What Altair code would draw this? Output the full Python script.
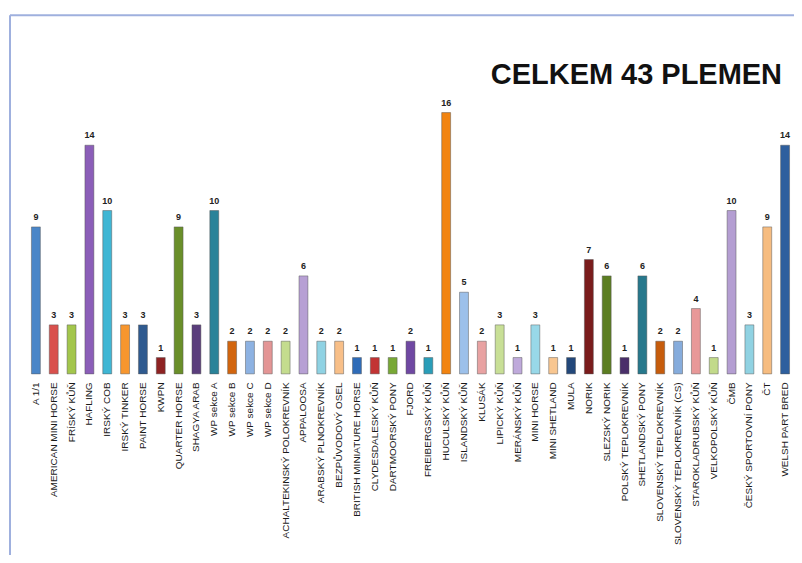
import altair as alt
import pandas as pd

breeds = [
    "A 1/1", "AMERICAN MINI HORSE", "FRÍSKÝ KŮŇ", "HAFLING", "IRSKÝ COB",
    "IRSKÝ TINKER", "PAINT HORSE", "KWPN", "QUARTER HORSE", "SHAGYA ARAB",
    "WP sekce A", "WP sekce B", "WP sekce C", "WP sekce D",
    "ACHALTEKINSKÝ POLOKREVNÍK", "APPALOOSA", "ARABSKÝ PLNOKREVNÍK",
    "BEZPŮVODOVÝ OSEL", "BRITISH MINIATURE HORSE", "CLYDESDALESKÝ KŮŇ",
    "DARTMOORSKÝ PONY", "FJORD", "FREIBERGSKÝ KŮŇ", "HUCULSKÝ KŮŇ",
    "ISLANDSKÝ KŮŇ", "KLUSÁK", "LIPICKÝ KŮŇ", "MERÁNSKÝ KŮŇ", "MINI HORSE",
    "MINI SHETLAND", "MULA", "NORIK", "SLEZSKÝ NORIK", "POLSKÝ TEPLOKREVNÍK",
    "SHETLANDSKÝ PONY", "SLOVENSKÝ TEPLOKREVNÍK",
    "SLOVENSKÝ TEPLOKREVNÍK (CS)", "STAROKLADRUBSKÝ KŮŇ", "VELKOPOLSKÝ KŮŇ",
    "ČMB", "ČESKÝ SPORTOVNÍ PONY", "ČT", "WELSH PART BRED",
]
counts = [
    9, 3, 3, 14, 10, 3, 3, 1, 9, 3,
    10, 2, 2, 2, 2, 6, 2, 2, 1, 1,
    1, 2, 1, 16, 5, 2, 3, 1, 3, 1,
    1, 7, 6, 1, 6, 2, 2, 4, 1, 10,
    3, 9, 14,
]
fills = [
    "#4a86c8", "#d9504c", "#a3c64c", "#8b5eb8", "#3fb6d4", "#f7962e",
    "#2f5a8f", "#8e2222", "#6a8f2a", "#5a3d7c", "#2a8399", "#d2650e",
    "#8db2e2", "#e39595", "#c4dc8e", "#b7a0d4", "#8fd2e3", "#f8bf88",
    "#2f6cb8", "#c23434", "#78a836", "#6f48a2", "#2a9db8", "#f28410",
    "#9cc0ea", "#e8a2a2", "#c8df96", "#bfaadb", "#98d8e8", "#f8c690",
    "#23487a", "#7a1c1c", "#5c7e22", "#4a2f6a", "#27788c", "#c65c0c",
    "#86acdc", "#e89898", "#c2da8a", "#b49ed2", "#90d2e2", "#f6bc80",
    "#2e5f9e",
]
title_text = "CELKEM 43 PLEMEN"

df = pd.DataFrame({"breed": breeds, "count": counts, "fill": fills})
one = pd.DataFrame({"t": [title_text]})

x_enc = alt.X("breed:N", sort=breeds, title=None,
              scale=alt.Scale(paddingInner=0.5, paddingOuter=0.25),
              axis=alt.Axis(labelAngle=-90, labelFontSize=10, labelFont="Liberation Sans",
                            labelColor="#1a1a1a", labelPadding=8, ticks=False, domain=False,
                            grid=False, labelLimit=300))
y_enc = alt.Y("count:Q", title=None, scale=alt.Scale(domain=[0, 17], nice=False, zero=True),
              axis=None)

bars = alt.Chart(df).mark_bar(stroke="#555555", strokeWidth=0.8, strokeOpacity=0.6).encode(
    x=x_enc, y=y_enc, fill=alt.Fill("fill:N", scale=None)
)
labels = alt.Chart(df).mark_text(baseline="bottom", dy=-5, fontSize=9, fontWeight="bold",
                                  font="Liberation Sans", color="#222222").encode(
    x=alt.X("breed:N", sort=breeds), y="count:Q", text="count:Q"
)

border_top = alt.Chart(one).mark_rule(color="#9fb0de", strokeWidth=2).encode(
    x=alt.value(-17), x2=alt.value(800), y=alt.value(-81)
)
border_left = alt.Chart(one).mark_rule(color="#9fb0de", strokeWidth=2).encode(
    x=alt.value(-17), y=alt.value(-81), y2=alt.value(470)
)
title = alt.Chart(one).mark_text(align="right", baseline="alphabetic", fontSize=29,
                                  fontWeight="bold", font="Liberation Sans",
                                  color="#111111").encode(
    x=alt.value(756), y=alt.value(-12), text="t:N"
)

chart = alt.layer(border_top, border_left, bars, labels, title).properties(
    width=768, height=278,
    background="white",
    autosize=alt.AutoSizeParams(type="none"),
    padding={"left": 19, "top": 88, "right": 0, "bottom": 181},
).configure_view(stroke="transparent", strokeWidth=0)

chart.save("out.html", embed_options={"renderer": "svg", "actions": False})
